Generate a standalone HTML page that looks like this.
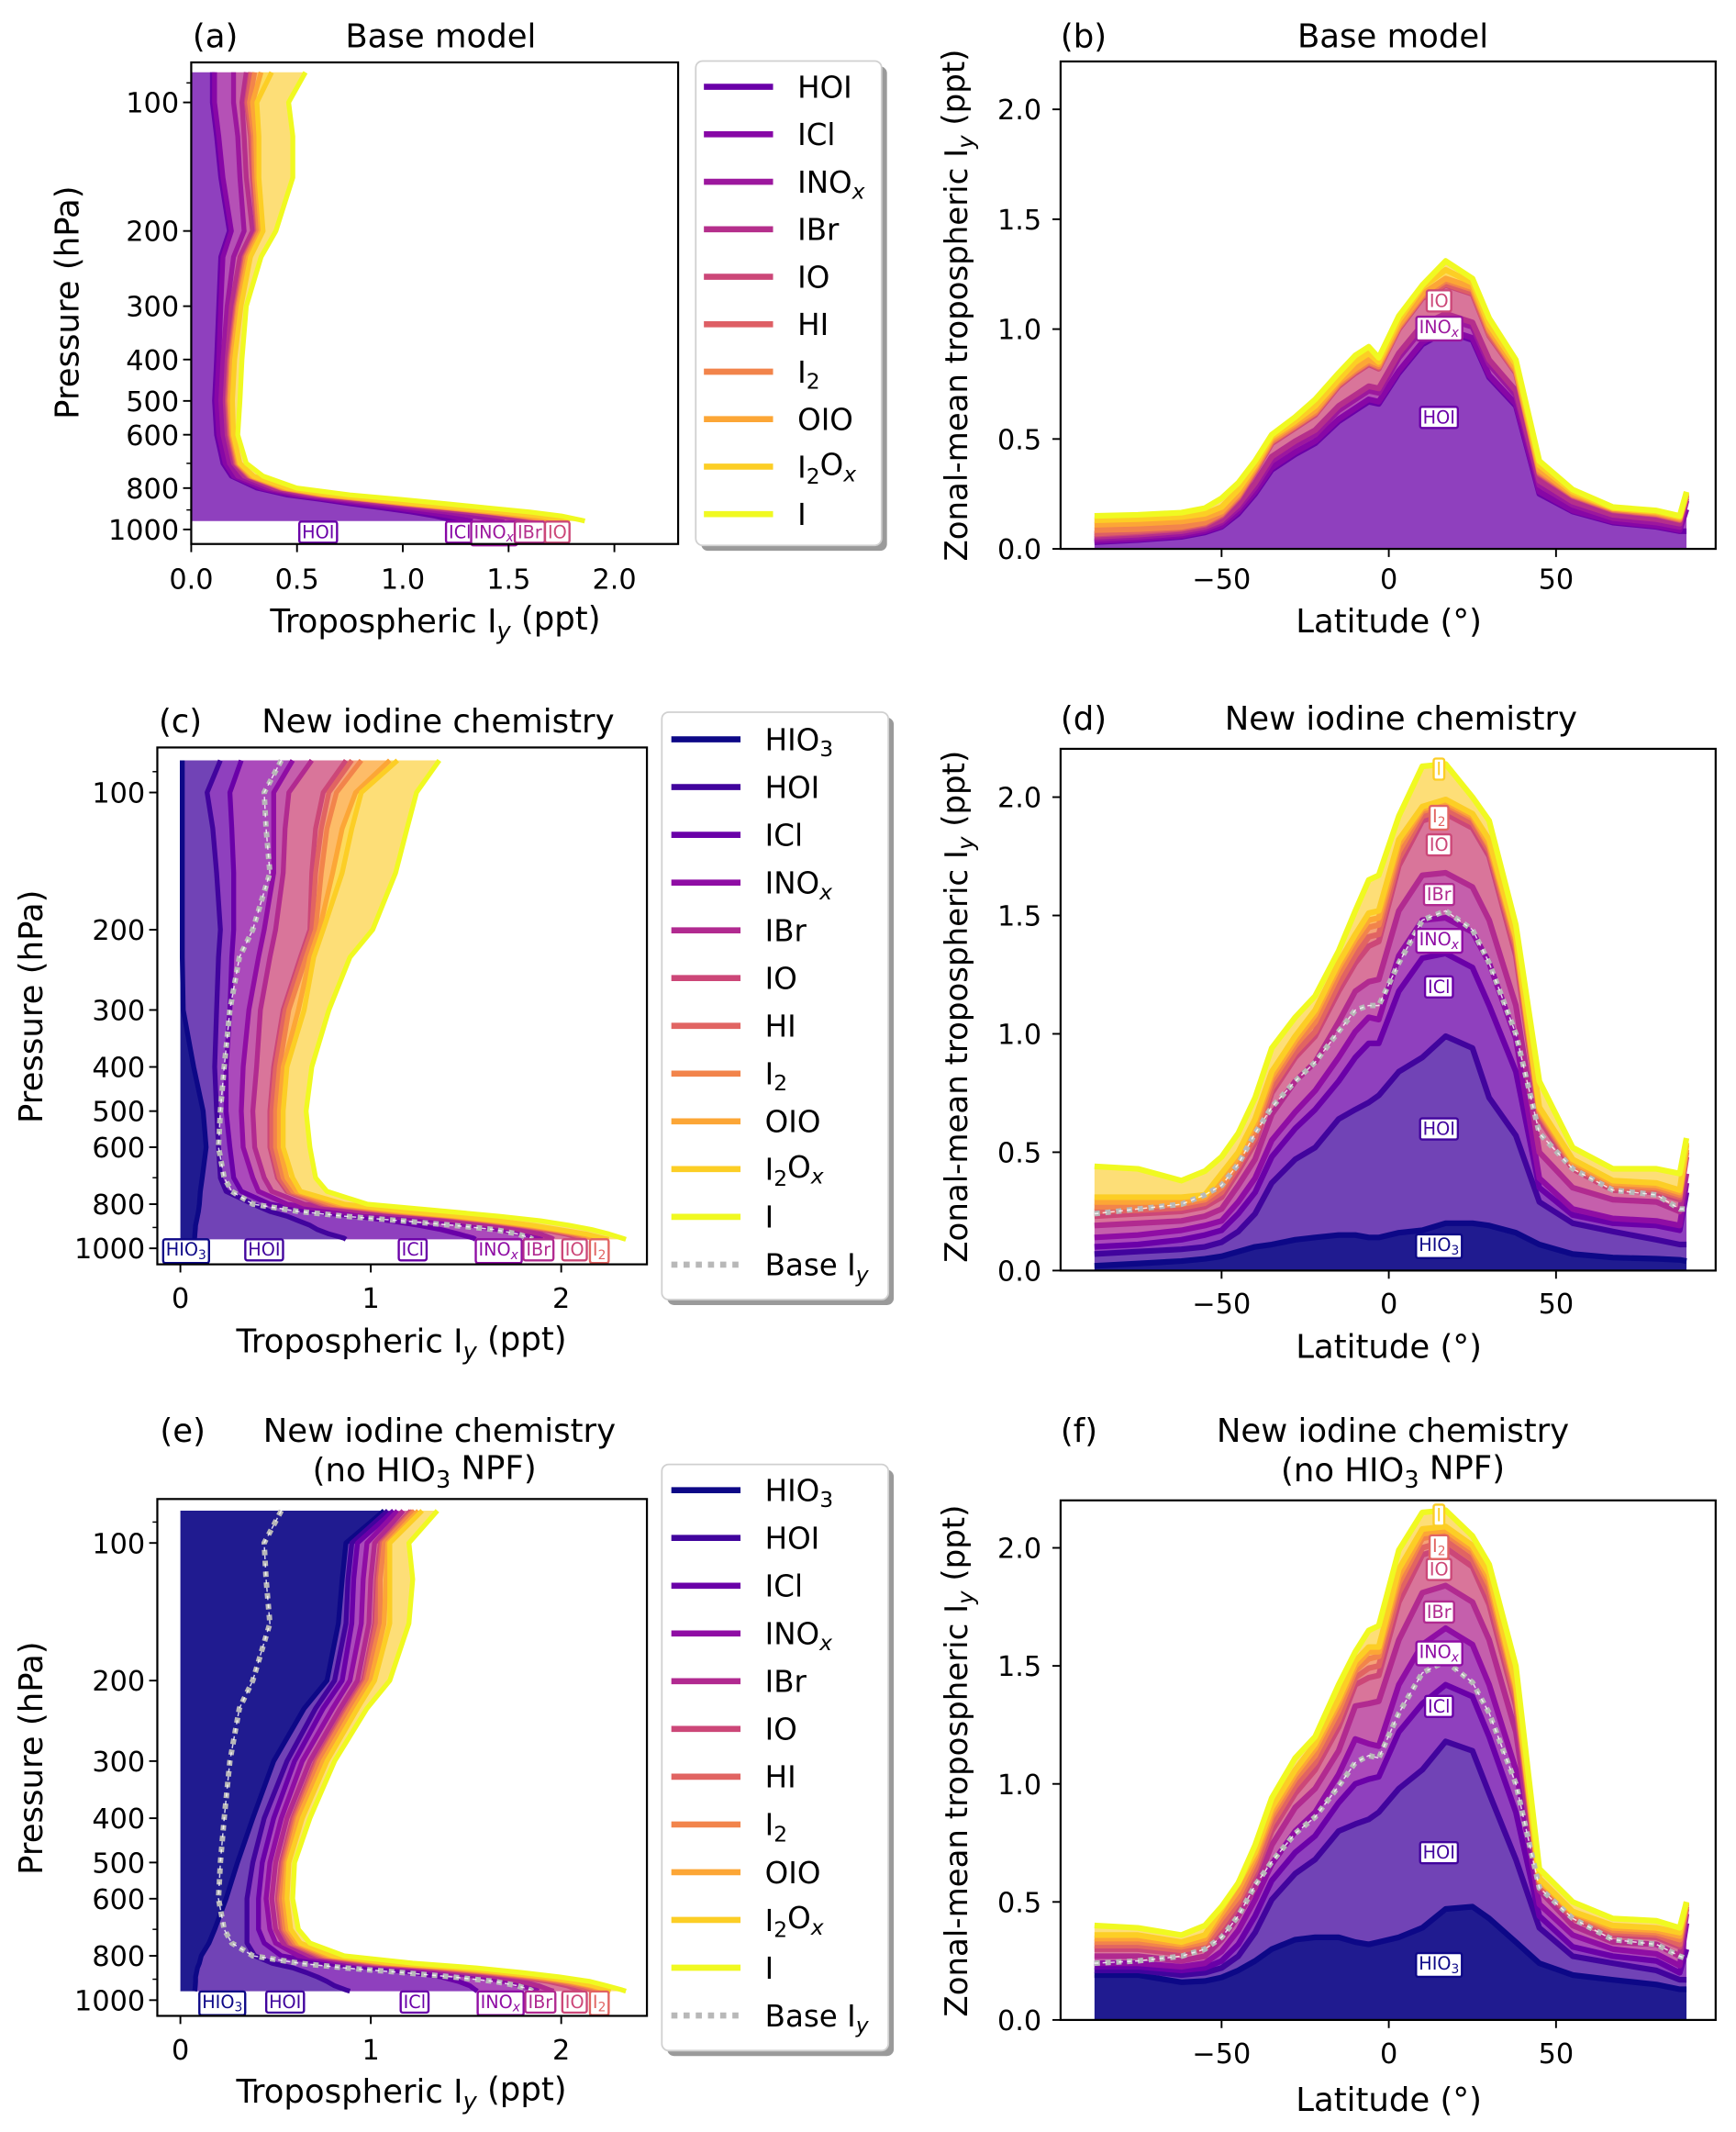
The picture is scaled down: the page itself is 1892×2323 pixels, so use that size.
<!DOCTYPE html>
<html><head><meta charset="utf-8"><title>Iodine chart</title>
<style>
html,body{margin:0;padding:0;background:#fff;}
svg{display:block;}
text{font-family:"DejaVu Sans","Liberation Sans",sans-serif;fill:#000;}
</style></head>
<body>
<svg id="fig" xmlns="http://www.w3.org/2000/svg" width="1892" height="2323" viewBox="0 0 1280 1571.6" preserveAspectRatio="none"></svg>
<script>
// ---------- DATA ----------
const PRESSURE=[85,100,120,150,200,230,300,400,500,600,700,750,800,830,850,870,890,910,930,950,956];
const LAT=[-88,-75,-62,-55,-50,-45,-40,-35,-28,-22,-15,-10,-6,-3,3,10,17,25,30,38,45,55,67,80,87,89];

// panel (a): cumulative profiles (ppt)
const A_HOI=[0.1,0.1,0.12,0.14,0.18,0.14,0.13,0.12,0.11,0.12,0.15,0.19,0.31,0.45,0.61,0.75,0.9,1.04,1.15,1.23,1.26];
const A_ICL=[0.11,0.11,0.13,0.15,0.19,0.15,0.14,0.13,0.12,0.13,0.16,0.2,0.33,0.48,0.65,0.8,0.96,1.1,1.22,1.3,1.33];
const A_INOX=[0.2,0.2,0.22,0.23,0.25,0.2,0.17,0.15,0.14,0.15,0.18,0.22,0.36,0.52,0.7,0.87,1.04,1.2,1.33,1.44,1.48];
const A_IBR=[0.26,0.24,0.25,0.26,0.29,0.23,0.19,0.17,0.16,0.17,0.2,0.25,0.39,0.56,0.75,0.93,1.12,1.3,1.44,1.56,1.6];
const A_IO=[0.28,0.26,0.28,0.29,0.31,0.25,0.21,0.18,0.17,0.18,0.21,0.27,0.42,0.6,0.8,0.99,1.19,1.38,1.53,1.66,1.7];
const A_HI=[0.285,0.265,0.285,0.295,0.315,0.255,0.215,0.185,0.175,0.185,0.215,0.275,0.425,0.61,0.81,1.0,1.2,1.39,1.54,1.67,1.71];
const A_I2=[0.3,0.275,0.295,0.3,0.32,0.26,0.22,0.19,0.18,0.19,0.22,0.28,0.43,0.62,0.82,1.01,1.21,1.4,1.56,1.69,1.73];
const A_OIO=[0.33,0.29,0.305,0.31,0.33,0.27,0.225,0.195,0.185,0.195,0.225,0.285,0.44,0.63,0.83,1.02,1.22,1.42,1.58,1.71,1.75];
const A_I2OX=[0.38,0.31,0.32,0.32,0.34,0.28,0.235,0.205,0.195,0.2,0.23,0.295,0.455,0.66,0.86,1.06,1.27,1.47,1.64,1.76,1.79];
const A_I=[0.54,0.46,0.48,0.48,0.4,0.33,0.26,0.24,0.23,0.22,0.26,0.34,0.5,0.75,0.99,1.2,1.4,1.6,1.75,1.84,1.86];

// panel (c)
const C_HIO3=[0.01,0.01,0.01,0.01,0.01,0.01,0.015,0.07,0.12,0.135,0.115,0.105,0.1,0.095,0.09,0.085,0.08,0.078,0.076,0.075,0.075];
const C_HOI=[0.21,0.14,0.17,0.19,0.21,0.2,0.19,0.18,0.19,0.2,0.21,0.24,0.38,0.47,0.56,0.62,0.68,0.72,0.78,0.86,0.87];
const C_ICL=[0.32,0.26,0.27,0.28,0.28,0.27,0.26,0.24,0.24,0.26,0.28,0.32,0.47,0.68,0.92,1.1,1.25,1.37,1.46,1.54,1.55];
const C_INOX=[0.59,0.49,0.49,0.49,0.44,0.41,0.36,0.33,0.32,0.33,0.38,0.41,0.56,0.8,1.1,1.34,1.52,1.67,1.8,1.89,1.9];
const C_IBR=[0.69,0.57,0.55,0.54,0.5,0.47,0.42,0.4,0.38,0.39,0.44,0.48,0.65,0.95,1.25,1.46,1.64,1.78,1.89,1.95,1.96];
const C_IO=[0.87,0.75,0.71,0.69,0.68,0.63,0.54,0.49,0.47,0.47,0.51,0.56,0.74,1.07,1.37,1.58,1.76,1.9,2.02,2.1,2.11];
const C_HI=[0.9,0.78,0.74,0.71,0.69,0.64,0.55,0.5,0.48,0.48,0.52,0.57,0.76,1.09,1.39,1.6,1.78,1.93,2.05,2.13,2.14];
const C_I2=[0.95,0.82,0.77,0.74,0.71,0.66,0.57,0.52,0.5,0.5,0.54,0.59,0.79,1.12,1.41,1.62,1.8,1.95,2.08,2.16,2.18];
const C_OIO=[1.1,0.92,0.85,0.8,0.73,0.68,0.62,0.54,0.52,0.52,0.56,0.61,0.83,1.15,1.43,1.64,1.82,1.97,2.1,2.19,2.21];
const C_I2OX=[1.14,0.95,0.9,0.85,0.75,0.7,0.65,0.56,0.54,0.54,0.59,0.63,0.86,1.19,1.46,1.67,1.85,1.99,2.13,2.22,2.25];
const C_I=[1.36,1.24,1.19,1.13,1.01,0.89,0.78,0.69,0.66,0.68,0.71,0.77,0.98,1.4,1.67,1.89,2.04,2.16,2.25,2.32,2.34];
const BASE_PROFILE=[0.53,0.44,0.45,0.47,0.38,0.31,0.26,0.23,0.21,0.2,0.23,0.27,0.38,0.62,0.86,1.16,1.43,1.65,1.77,1.84,1.85];

// panel (e)
const E_HIO3=[1.07,0.87,0.85,0.83,0.77,0.65,0.49,0.38,0.3,0.24,0.18,0.15,0.11,0.1,0.09,0.085,0.08,0.08,0.078,0.076,0.075];
const E_HOI=[1.09,0.9,0.88,0.87,0.81,0.71,0.56,0.44,0.38,0.35,0.35,0.35,0.39,0.48,0.59,0.66,0.72,0.77,0.81,0.87,0.89];
const E_ICL=[1.12,0.93,0.91,0.9,0.85,0.75,0.6,0.49,0.43,0.41,0.41,0.44,0.53,0.74,1.01,1.22,1.37,1.46,1.52,1.55,1.56];
const E_INOX=[1.14,0.98,0.96,0.95,0.89,0.8,0.64,0.53,0.47,0.45,0.47,0.5,0.62,0.86,1.16,1.4,1.58,1.7,1.79,1.87,1.88];
const E_IBR=[1.17,1.02,1.0,0.99,0.93,0.84,0.68,0.56,0.5,0.48,0.5,0.54,0.68,0.93,1.25,1.49,1.67,1.79,1.88,1.94,1.96];
const E_IO=[1.21,1.05,1.03,1.02,0.96,0.87,0.71,0.59,0.53,0.51,0.53,0.57,0.72,0.99,1.32,1.58,1.77,1.93,2.03,2.09,2.11];
const E_HI=[1.22,1.06,1.04,1.03,0.97,0.88,0.72,0.6,0.54,0.52,0.54,0.58,0.74,1.02,1.35,1.61,1.81,1.97,2.08,2.15,2.17];
const E_I2=[1.23,1.07,1.05,1.05,0.98,0.89,0.73,0.61,0.55,0.53,0.55,0.6,0.76,1.05,1.39,1.64,1.85,2.01,2.12,2.2,2.21];
const E_OIO=[1.25,1.09,1.08,1.07,1.0,0.91,0.75,0.62,0.56,0.545,0.565,0.615,0.78,1.08,1.43,1.67,1.88,2.04,2.15,2.22,2.24];
const E_I2OX=[1.27,1.1,1.1,1.1,1.02,0.93,0.77,0.64,0.57,0.56,0.58,0.63,0.8,1.1,1.46,1.7,1.91,2.06,2.17,2.24,2.26];
const E_I=[1.35,1.2,1.22,1.2,1.1,0.98,0.81,0.68,0.6,0.59,0.62,0.68,0.86,1.22,1.55,1.79,1.99,2.15,2.24,2.32,2.34];

// panel (b)
const B_HOI=[0.03,0.04,0.055,0.075,0.1,0.16,0.25,0.36,0.43,0.48,0.58,0.63,0.67,0.66,0.8,0.93,0.99,0.95,0.78,0.65,0.25,0.17,0.12,0.1,0.08,0.08];
const B_ICL=[0.035,0.045,0.06,0.08,0.105,0.17,0.26,0.37,0.44,0.49,0.59,0.64,0.68,0.67,0.81,0.94,1.0,0.96,0.79,0.66,0.26,0.175,0.125,0.105,0.085,0.18];
const B_INOX=[0.045,0.055,0.07,0.09,0.12,0.185,0.28,0.4,0.47,0.52,0.63,0.68,0.72,0.71,0.87,1.0,1.05,1.01,0.84,0.7,0.29,0.2,0.14,0.12,0.1,0.22];
const B_IBR=[0.055,0.065,0.08,0.1,0.13,0.2,0.3,0.42,0.49,0.54,0.65,0.7,0.74,0.73,0.89,1.02,1.07,1.03,0.86,0.72,0.31,0.215,0.155,0.135,0.115,0.23];
const B_IO=[0.065,0.075,0.09,0.11,0.15,0.23,0.35,0.48,0.55,0.61,0.74,0.8,0.84,0.82,1.0,1.14,1.2,1.16,0.97,0.8,0.34,0.24,0.175,0.155,0.13,0.24];
const B_HI=[0.07,0.08,0.095,0.115,0.155,0.235,0.355,0.485,0.555,0.615,0.745,0.805,0.845,0.825,1.005,1.145,1.205,1.165,0.975,0.805,0.345,0.242,0.177,0.157,0.132,0.242];
const B_I2=[0.085,0.09,0.1,0.12,0.16,0.24,0.36,0.49,0.56,0.62,0.75,0.81,0.85,0.83,1.01,1.15,1.22,1.18,0.99,0.81,0.35,0.245,0.18,0.16,0.135,0.245];
const B_OIO=[0.11,0.115,0.125,0.14,0.17,0.25,0.37,0.5,0.57,0.63,0.76,0.82,0.86,0.84,1.02,1.16,1.23,1.19,1.0,0.82,0.36,0.25,0.185,0.165,0.14,0.25];
const B_I2OX=[0.13,0.135,0.145,0.16,0.19,0.27,0.38,0.51,0.58,0.65,0.77,0.85,0.89,0.85,1.04,1.19,1.27,1.21,1.02,0.84,0.38,0.26,0.185,0.17,0.145,0.255];
const B_I=[0.15,0.155,0.165,0.185,0.23,0.3,0.4,0.52,0.6,0.68,0.8,0.88,0.92,0.87,1.06,1.2,1.31,1.23,1.05,0.86,0.4,0.27,0.19,0.175,0.15,0.26];

// panel (d)
const D_HIO3=[0.02,0.03,0.04,0.05,0.06,0.08,0.1,0.11,0.13,0.14,0.15,0.15,0.14,0.14,0.16,0.17,0.2,0.2,0.19,0.16,0.11,0.07,0.055,0.05,0.045,0.04];
const D_HOI=[0.07,0.08,0.09,0.1,0.12,0.165,0.24,0.37,0.47,0.52,0.64,0.68,0.71,0.74,0.84,0.9,0.99,0.94,0.73,0.57,0.29,0.2,0.165,0.13,0.11,0.11];
const D_ICL=[0.1,0.11,0.13,0.15,0.17,0.24,0.33,0.48,0.6,0.68,0.8,0.9,0.96,0.96,1.18,1.32,1.34,1.28,1.12,0.84,0.35,0.235,0.2,0.19,0.17,0.33];
const D_INOX=[0.14,0.15,0.17,0.19,0.21,0.29,0.39,0.55,0.67,0.76,0.9,1.01,1.07,1.06,1.33,1.48,1.49,1.43,1.3,0.98,0.39,0.26,0.22,0.21,0.19,0.37];
const D_IBR=[0.19,0.2,0.21,0.23,0.26,0.36,0.47,0.66,0.8,0.88,1.05,1.18,1.22,1.23,1.52,1.67,1.68,1.62,1.48,1.12,0.5,0.35,0.3,0.29,0.25,0.41];
const D_IO=[0.23,0.24,0.25,0.27,0.31,0.42,0.54,0.75,0.9,0.99,1.18,1.3,1.37,1.39,1.71,1.9,1.93,1.87,1.75,1.33,0.64,0.43,0.34,0.33,0.3,0.48];
const D_HI=[0.25,0.255,0.265,0.285,0.33,0.44,0.56,0.77,0.92,1.01,1.21,1.33,1.41,1.42,1.74,1.92,1.95,1.89,1.77,1.36,0.66,0.44,0.35,0.34,0.31,0.5];
const D_I2=[0.27,0.27,0.28,0.3,0.35,0.46,0.59,0.8,0.95,1.05,1.25,1.37,1.45,1.46,1.77,1.94,1.97,1.91,1.79,1.38,0.67,0.45,0.36,0.35,0.32,0.51];
const D_OIO=[0.29,0.29,0.29,0.31,0.38,0.48,0.62,0.82,0.97,1.08,1.28,1.4,1.48,1.49,1.8,1.95,1.98,1.92,1.8,1.4,0.68,0.46,0.37,0.36,0.33,0.53];
const D_I2OX=[0.31,0.31,0.31,0.32,0.41,0.5,0.64,0.84,0.99,1.1,1.3,1.42,1.51,1.52,1.82,1.96,1.99,1.93,1.82,1.41,0.69,0.47,0.38,0.37,0.34,0.54];
const D_I=[0.44,0.43,0.38,0.42,0.48,0.58,0.73,0.94,1.07,1.16,1.35,1.52,1.65,1.67,1.92,2.13,2.14,2.0,1.9,1.46,0.8,0.52,0.43,0.43,0.41,0.56];
const D_BASE=[0.24,0.26,0.28,0.32,0.36,0.45,0.58,0.69,0.8,0.88,1.01,1.1,1.12,1.12,1.3,1.48,1.52,1.44,1.3,1.0,0.58,0.43,0.34,0.32,0.26,0.26];

// panel (f)
const F_HIO3=[0.19,0.19,0.16,0.165,0.18,0.21,0.25,0.3,0.34,0.35,0.35,0.33,0.32,0.33,0.35,0.39,0.47,0.48,0.43,0.33,0.24,0.19,0.17,0.15,0.13,0.13];
const F_HOI=[0.21,0.21,0.19,0.2,0.22,0.27,0.37,0.51,0.62,0.68,0.8,0.83,0.85,0.88,0.98,1.06,1.18,1.14,0.96,0.68,0.39,0.27,0.24,0.21,0.17,0.17];
const F_ICL=[0.225,0.225,0.21,0.22,0.25,0.32,0.44,0.59,0.71,0.78,0.92,1.0,1.02,1.03,1.22,1.34,1.42,1.37,1.2,0.88,0.44,0.31,0.27,0.25,0.2,0.3];
const F_INOX=[0.24,0.24,0.225,0.24,0.29,0.38,0.51,0.66,0.8,0.88,1.04,1.19,1.17,1.16,1.42,1.59,1.66,1.59,1.42,1.06,0.49,0.36,0.3,0.28,0.23,0.41];
const F_IBR=[0.27,0.27,0.25,0.27,0.34,0.44,0.56,0.74,0.9,0.98,1.14,1.33,1.34,1.35,1.61,1.81,1.84,1.77,1.61,1.22,0.55,0.4,0.33,0.32,0.27,0.45];
const F_IO=[0.3,0.3,0.28,0.3,0.38,0.48,0.62,0.8,0.96,1.06,1.24,1.42,1.45,1.46,1.77,1.97,2.0,1.92,1.76,1.33,0.57,0.43,0.36,0.35,0.31,0.47];
const F_HI=[0.315,0.315,0.295,0.315,0.4,0.5,0.64,0.83,0.99,1.09,1.27,1.45,1.49,1.5,1.81,2.0,2.03,1.95,1.8,1.36,0.58,0.44,0.37,0.36,0.32,0.48];
const F_I2=[0.33,0.33,0.31,0.33,0.43,0.52,0.67,0.86,1.02,1.12,1.31,1.48,1.53,1.54,1.85,2.04,2.06,1.98,1.84,1.39,0.59,0.45,0.38,0.37,0.34,0.49];
const F_OIO=[0.345,0.345,0.32,0.345,0.45,0.55,0.69,0.88,1.04,1.15,1.34,1.5,1.56,1.56,1.88,2.06,2.075,1.995,1.865,1.405,0.59,0.455,0.39,0.38,0.355,0.495];
const F_I2OX=[0.36,0.36,0.33,0.36,0.47,0.58,0.71,0.9,1.06,1.17,1.36,1.52,1.58,1.58,1.91,2.08,2.09,2.01,1.89,1.42,0.6,0.46,0.4,0.39,0.37,0.5];
const F_I=[0.4,0.39,0.36,0.4,0.48,0.58,0.74,0.94,1.11,1.2,1.42,1.56,1.65,1.67,1.99,2.15,2.16,2.05,1.93,1.5,0.64,0.5,0.43,0.42,0.39,0.5];
const F_BASE=[0.24,0.25,0.27,0.3,0.35,0.44,0.57,0.67,0.79,0.86,0.99,1.09,1.12,1.11,1.3,1.47,1.52,1.43,1.3,1.0,0.56,0.43,0.34,0.32,0.27,0.26];

// tick labels
const P_TICKS=[100,200,300,400,500,600,800,1000];
const P_MINOR=[90,700,900];
const A_XTICKS=[0,0.5,1,1.5,2];
const A_XTICK_LABELS=['0.0','0.5','1.0','1.5','2.0'];
const C_XTICKS=[0,1,2];
const C_XTICK_LABELS=['0','1','2'];
const LAT_TICKS=[-50,0,50];
const LAT_TICK_LABELS=['\u221250','0','50'];
const Y_TICKS=[0,0.5,1,1.5,2];
const Y_TICK_LABELS=['0.0','0.5','1.0','1.5','2.0'];

// ---------- RENDERING ----------
const NS='http://www.w3.org/2000/svg';
const svg=document.getElementById('fig');
const TICK_FS=20.5, AX_FS=24, TITLE_FS=24;
function mk(tag,attrs,parent){const e=document.createElementNS(NS,tag);for(const k in attrs)e.setAttribute(k,attrs[k]);(parent||svg).appendChild(e);return e;}
function rich(t,str){
  const parts=str.split(/_(.)/);
  for(let i=0;i<parts.length;i++){
    if(parts[i]==='')continue;
    const ts=document.createElementNS(NS,'tspan');
    ts.textContent=parts[i];
    if(i%2===1){ts.setAttribute('dy','0.28em');ts.setAttribute('font-size','72%');if(/[xy]/.test(parts[i]))ts.setAttribute('font-style','italic');}
    else if(i>0){ts.setAttribute('dy','-0.28em');}
    t.appendChild(ts);
  }
}
const COL10=['#6a00a8','#8707a6','#9c179e','#b52f8c','#cc4778','#de5f65','#f2844b','#fca636','#fcce25','#f0f921'];
const COL11=['#0d0887','#41049d','#6a00a8','#8f0da4','#b12a90','#cc4778','#e16462','#f2844b','#fca636','#fcce25','#f0f921'];
const N10=['HOI','ICl','INO_x','IBr','IO','HI','I_2','OIO','I_2O_x','I'];
const N11=['HIO_3'].concat(N10);
function slug(s){return s.replace(/_/g,'').toLowerCase();}
function fillCol(cols,k){return k===cols.length-1?'#fcd34a':cols[k];}
function fillOp(cols,k){if(k===0&&cols.length===11)return 0.92;if(k===cols.length-1)return 0.75;return 0.75;}

function addLabel(g,str,cx,cy,color,fs){
  const t=mk('text',{'font-size':fs,'text-anchor':'middle',x:cx,y:cy+fs*0.36},g);
  
  
  t.style.fill=color;rich(t,str);
  const b=t.getBBox();
  const r=mk('rect',{x:b.x-2,y:b.y,width:b.width+4,height:b.height,fill:'#fff',stroke:color,'stroke-width':1.6,rx:1.5},g);
  
  
  g.insertBefore(r,t);
}
function titles(g,letter,lx,lines,base){
  const t=mk('text',{x:lx,y:base,'font-size':TITLE_FS},g);
  
  
  t.textContent=letter;
  lines.forEach((ln,i)=>{
    const tt=mk('text',{x:ln[1],y:base+i*29,'font-size':TITLE_FS,'text-anchor':'middle'},g);
    
    
    rich(tt,ln[0]);
  });
}
function legend(g,x0,y0,x1,y1,names,cols,firstY,step,sx0,sx1,tx,withBase){
  const sh=mk('rect',{x:x0+4,y:y0+4,width:x1-x0,height:y1-y0,rx:5,fill:'#9a9a9a'},g);
  
  
  const bx=mk('rect',{x:x0,y:y0,width:x1-x0,height:y1-y0,rx:5,fill:'#fff',stroke:'#d0d0d0','stroke-width':1.2},g);
  
  
  names.forEach((n,i)=>{
    const y=firstY+i*step;
    const ln=mk('line',{x1:sx0,x2:sx1,y1:y,y2:y,stroke:cols[i],'stroke-width':4.5},g);
    
    
    const t=mk('text',{x:tx,y:y+8,'font-size':22},g);
    
    
    rich(t,n);
  });
  if(withBase){
    const y=firstY+names.length*step;
    const ln=mk('line',{x1:sx0,x2:sx1,y1:y,y2:y,stroke:'#b8b8b8','stroke-width':4.5,'stroke-dasharray':'4.5 4.5'},g);
    
    
    const t=mk('text',{x:tx,y:y+8,'font-size':22},g);
    
    
    rich(t,'Base I_y');
  }
}

function profilePanel(p){
  const g=mk('g',{});
  
  
  const X=v=>p.xz+v*p.xs, Y=pr=>p.y1000+p.dec*Math.log10(pr/1000);
  let prev=PRESSURE.map(()=>0);
  p.series.forEach((s,k)=>{
    const pts=[];
    PRESSURE.forEach((pr,i)=>pts.push(X(s[i]).toFixed(1)+','+Y(pr).toFixed(1)));
    for(let i=PRESSURE.length-1;i>=0;i--)pts.push(X(prev[i]).toFixed(1)+','+Y(PRESSURE[i]).toFixed(1));
    const poly=mk('polygon',{points:pts.join(' '),fill:fillCol(p.cols,k),'fill-opacity':fillOp(p.cols,k)},g);
    
    
    prev=s;
  });
  p.series.forEach((s,k)=>{
    const pts=PRESSURE.map((pr,i)=>X(s[i]).toFixed(1)+','+Y(pr).toFixed(1)).join(' ');
    const l=mk('polyline',{points:pts,fill:'none',stroke:p.cols[k],'stroke-width':3.6,'stroke-linejoin':'round'},g);
    
    
  });
  if(p.base){
    const pts=PRESSURE.map((pr,i)=>X(p.base[i]).toFixed(1)+','+Y(pr).toFixed(1)).join(' ');
    const l=mk('polyline',{points:pts,fill:'none',stroke:'#b8b8b8','stroke-width':4,'stroke-dasharray':'4 4'},g);
    
    
    const l2=mk('polyline',{points:pts,fill:'none',stroke:'#fff','stroke-width':1,'stroke-dasharray':'3 3','stroke-opacity':0.8},g);
    
    
  }
  p.labels.forEach(lb=>addLabel(g,lb[0],X(lb[1]),p.labelY,lb[2],13));
  const box=mk('rect',{x:p.x0,y:p.y0,width:p.x1-p.x0,height:p.y1-p.y0,fill:'none',stroke:'#000','stroke-width':1.5},g);
  
  
  P_TICKS.forEach(pr=>{
    const y=Y(pr);
    const tk=mk('line',{x1:p.x0-6,x2:p.x0,y1:y,y2:y,stroke:'#000','stroke-width':1.3},g);
    
    
    const t=mk('text',{x:p.x0-9,y:y+7.5,'font-size':TICK_FS,'text-anchor':'end'},g);
    
    
    t.textContent=String(pr);
  });
  P_MINOR.forEach(pr=>{
    const y=Y(pr);
    const tk=mk('line',{x1:p.x0-3.5,x2:p.x0,y1:y,y2:y,stroke:'#000','stroke-width':1},g);
    
    
  });
  p.xticks.forEach((v,i)=>{
    const x=X(v);
    const tk=mk('line',{x1:x,x2:x,y1:p.y1,y2:p.y1+6,stroke:'#000','stroke-width':1.3},g);
    
    
    const t=mk('text',{x:x,y:p.tickBase,'font-size':TICK_FS,'text-anchor':'middle'},g);
    
    
    t.textContent=p.xlabels[i];
  });
  const xl=mk('text',{x:p.xlabX,y:p.xlabY,'font-size':AX_FS,'text-anchor':'middle'},g);
  
  
  rich(xl,'Tropospheric I_y (ppt)');
  const yl=mk('text',{x:0,y:0,'font-size':AX_FS,'text-anchor':'middle',transform:'translate('+(p.ylabX+8)+','+p.ylabY+') rotate(-90)'},g);
  
  
  yl.textContent='Pressure (hPa)';
  titles(g,p.letter,p.letterX,p.titles,p.titleBase);
  legend(g,p.lg[0],p.lg[1],p.lg[2],p.lg[3],p.names,p.cols,p.lg[4],p.lg[5],p.lg[6],p.lg[7],p.lg[8],!!p.base);
}

function latPanel(p){
  const g=mk('g',{});
  
  
  const X=v=>1024+v*2.466, Y=v=>p.yz-v*p.ys;
  let prev=LAT.map(()=>0);
  p.series.forEach((s,k)=>{
    const pts=[];
    LAT.forEach((la,i)=>pts.push(X(la).toFixed(1)+','+Y(s[i]).toFixed(1)));
    for(let i=LAT.length-1;i>=0;i--)pts.push(X(LAT[i]).toFixed(1)+','+Y(prev[i]).toFixed(1));
    const poly=mk('polygon',{points:pts.join(' '),fill:fillCol(p.cols,k),'fill-opacity':fillOp(p.cols,k)},g);
    
    
    prev=s;
  });
  p.series.forEach((s,k)=>{
    const pts=LAT.map((la,i)=>X(la).toFixed(1)+','+Y(s[i]).toFixed(1)).join(' ');
    const l=mk('polyline',{points:pts,fill:'none',stroke:p.cols[k],'stroke-width':4.2,'stroke-linejoin':'round'},g);
    
    
  });
  if(p.base){
    const pts=LAT.map((la,i)=>X(la).toFixed(1)+','+Y(p.base[i]).toFixed(1)).join(' ');
    const l=mk('polyline',{points:pts,fill:'none',stroke:'#b8b8b8','stroke-width':4,'stroke-dasharray':'4 4'},g);
    
    
    const l2=mk('polyline',{points:pts,fill:'none',stroke:'#fff','stroke-width':1,'stroke-dasharray':'3 3','stroke-opacity':0.8},g);
    
    
  }
  p.labels.forEach(lb=>addLabel(g,lb[0],X(15),Y(lb[1]),lb[2],13));
  const box=mk('rect',{x:782,y:p.y0,width:483,height:p.y1-p.y0,fill:'none',stroke:'#000','stroke-width':1.5},g);
  
  
  Y_TICKS.forEach((v,i)=>{
    const y=Y(v);
    const tk=mk('line',{x1:776,x2:782,y1:y,y2:y,stroke:'#000','stroke-width':1.3},g);
    
    
    const t=mk('text',{x:768,y:y+7.5,'font-size':TICK_FS,'text-anchor':'end'},g);
    
    
    t.textContent=Y_TICK_LABELS[i];
  });
  LAT_TICKS.forEach((v,i)=>{
    const x=X(v);
    const tk=mk('line',{x1:x,x2:x,y1:p.y1,y2:p.y1+6,stroke:'#000','stroke-width':1.3},g);
    
    
    const t=mk('text',{x:x,y:p.tickBase,'font-size':TICK_FS,'text-anchor':'middle'},g);
    
    
    t.textContent=LAT_TICK_LABELS[i];
  });
  const xl=mk('text',{x:1024,y:p.xlabY,'font-size':AX_FS,'text-anchor':'middle'},g);
  
  
  xl.textContent='Latitude (\u00b0)';
  const yl=mk('text',{x:0,y:0,'font-size':23,'text-anchor':'middle',transform:'translate(713,'+p.ylabY+') rotate(-90)'},g);
  
  
  rich(yl,'Zonal-mean tropospheric I_y (ppt)');
  titles(g,p.letter,782,p.titles,p.titleBase);
}

// (a)
profilePanel({name:'panel-a',x0:141,x1:500,y0:46,y1:401,xz:141,xs:156,y1000:390.3,dec:314.8,
  series:[A_HOI,A_ICL,A_INOX,A_IBR,A_IO,A_HI,A_I2,A_OIO,A_I2OX,A_I],names:N10,cols:COL10,
  labels:[['HOI',0.6,'#6a00a8'],['ICl',1.27,'#8707a6'],['INO_x',1.43,'#9c179e'],['IBr',1.6,'#b52f8c'],['IO',1.73,'#cc4778']],labelY:392,
  xticks:A_XTICKS,xlabels:A_XTICK_LABELS,tickBase:434,xlabX:321,xlabY:466,ylabX:50,ylabY:223,
  letter:'(a)',letterX:142,titles:[['Base model',325]],titleBase:35,
  lg:[513,45,650,402,64,35,519,570,588]});
// (c)
profilePanel({name:'panel-c',x0:116,x1:477,y0:551,y1:932,xz:133,xs:140.4,y1000:920.2,dec:336,
  series:[C_HIO3,C_HOI,C_ICL,C_INOX,C_IBR,C_IO,C_HI,C_I2,C_OIO,C_I2OX,C_I],names:N11,cols:COL11,base:BASE_PROFILE,
  labels:[['HIO_3',0.03,'#0d0887'],['HOI',0.44,'#41049d'],['ICl',1.22,'#6a00a8'],['INO_x',1.67,'#8f0da4'],['IBr',1.88,'#b12a90'],['IO',2.07,'#cc4778'],['I_2',2.2,'#e16462']],labelY:921,
  xticks:C_XTICKS,xlabels:C_XTICK_LABELS,tickBase:964,xlabX:296,xlabY:997,ylabX:23,ylabY:742,
  letter:'(c)',letterX:117,titles:[['New iodine chemistry',323]],titleBase:540,
  lg:[488,525,655,958,545,35.2,495,546,564]});
// (e)
profilePanel({name:'panel-e',x0:116,x1:477,y0:1105,y1:1486,xz:133,xs:140.4,y1000:1474.4,dec:337,
  series:[E_HIO3,E_HOI,E_ICL,E_INOX,E_IBR,E_IO,E_HI,E_I2,E_OIO,E_I2OX,E_I],names:N11,cols:COL11,base:BASE_PROFILE,
  labels:[['HIO_3',0.22,'#0d0887'],['HOI',0.55,'#41049d'],['ICl',1.23,'#6a00a8'],['INO_x',1.68,'#8f0da4'],['IBr',1.89,'#b12a90'],['IO',2.07,'#cc4778'],['I_2',2.2,'#e16462']],labelY:1475.5,
  xticks:C_XTICKS,xlabels:C_XTICK_LABELS,tickBase:1518,xlabX:296,xlabY:1550,ylabX:23,ylabY:1296,
  letter:'(e)',letterX:118,titles:[['New iodine chemistry',324],['(no HIO_3 NPF)',313]],titleBase:1063,
  lg:[488,1079.5,655,1511.6,1098.5,35.2,495,546,564]});
// (b)
latPanel({name:'panel-b',y0:45.3,y1:404.6,yz:404.6,ys:162,
  series:[B_HOI,B_ICL,B_INOX,B_IBR,B_IO,B_HI,B_I2,B_OIO,B_I2OX,B_I],names:N10,cols:COL10,
  labels:[['HOI',0.6,'#6a00a8'],['INO_x',1.01,'#9c179e'],['IO',1.13,'#cc4778']],
  tickBase:434,xlabY:466,ylabY:225,letter:'(b)',titles:[['Base model',1027]],titleBase:35});
// (d)
latPanel({name:'panel-d',y0:552,y1:936.6,yz:936.6,ys:174.5,
  series:[D_HIO3,D_HOI,D_ICL,D_INOX,D_IBR,D_IO,D_HI,D_I2,D_OIO,D_I2OX,D_I],names:N11,cols:COL11,base:D_BASE,
  labels:[['HIO_3',0.11,'#0d0887'],['HOI',0.6,'#41049d'],['ICl',1.2,'#6a00a8'],['INO_x',1.4,'#8f0da4'],['IBr',1.59,'#b12a90'],['IO',1.8,'#cc4778'],['I_2',1.92,'#e16462'],['I',2.12,'#fcce25']],
  tickBase:968,xlabY:1001,ylabY:742,letter:'(d)',titles:[['New iodine chemistry',1033]],titleBase:538});
// (f)
latPanel({name:'panel-f',y0:1106,y1:1489,yz:1489,ys:174,
  series:[F_HIO3,F_HOI,F_ICL,F_INOX,F_IBR,F_IO,F_HI,F_I2,F_OIO,F_I2OX,F_I],names:N11,cols:COL11,base:F_BASE,
  labels:[['HIO_3',0.24,'#0d0887'],['HOI',0.71,'#41049d'],['ICl',1.33,'#6a00a8'],['INO_x',1.56,'#8f0da4'],['IBr',1.73,'#b12a90'],['IO',1.91,'#cc4778'],['I_2',2.01,'#e16462'],['I',2.14,'#fcce25']],
  tickBase:1521,xlabY:1556,ylabY:1298,letter:'(f)',titles:[['New iodine chemistry',1027],['(no HIO_3 NPF)',1027]],titleBase:1063});
</script>
</body></html>
